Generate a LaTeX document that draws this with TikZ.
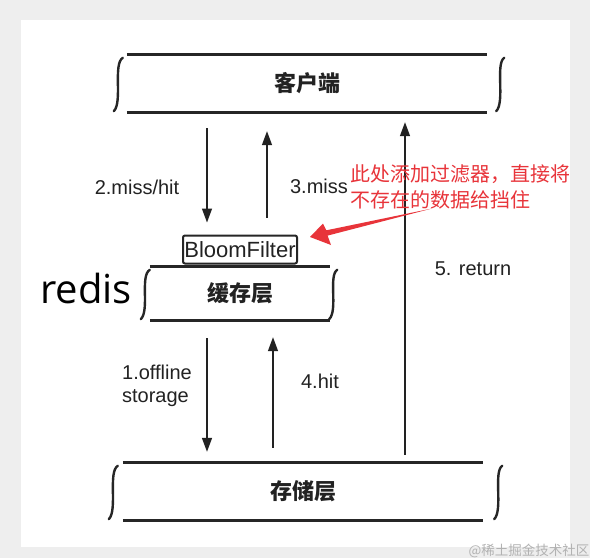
\documentclass[tikz,border=0pt]{standalone}
\usepackage{fontspec}
\setmainfont{Liberation Sans}
\newfontfamily\cjk{Noto Sans CJK SC}
\newfontfamily\redisfont{Open Sans}
\usetikzlibrary{arrows.meta,calc}
\definecolor{bgc}{RGB}{238,238,238}
\definecolor{redc}{RGB}{232,52,58}
\definecolor{ink}{RGB}{34,34,34}
\newcommand\layerdeco[3]{%
  \draw[bar] (#1.north west) -- (#1.north east);
  \draw[bar] (#1.south west) -- (#1.south east);
  \draw[brk] ([shift={(-#2+5,3)}]#1.north west) .. controls ([shift={(-#2-5,9)}]#1.north west) and ([shift={(-#2+5,-10)}]#1.south west) .. ([shift={(-#2-4,-1)}]#1.south west);
  \draw[brk] ([shift={(#3+4,3)}]#1.north east) .. controls ([shift={(#3-5,9)}]#1.north east) and ([shift={(#3+5,-10)}]#1.south east) .. ([shift={(#3-4,-1)}]#1.south east);
}
\begin{document}
\begin{tikzpicture}[x=1pt,y=-1pt,
  bar/.style={line width=3pt, draw=black!85},
  brk/.style={line width=2.4pt, draw=black!85, line cap=round},
  layer/.style={inner sep=0pt, font=\cjk\bfseries\fontsize{22}{24}\selectfont, text=ink},
  arr/.style={line width=1.4pt, draw=ink, -{Triangle[length=14pt,width=10pt]}},
  lbl/.style={inner sep=0pt, font=\fontsize{20}{24}\selectfont, text=ink},
  redtxt/.style={inner sep=0pt, font=\cjk\fontsize{20}{26}\selectfont, text=redc, anchor=base west}
]
\useasboundingbox (0,0) rectangle (590,558);
\fill[bgc] (0,0) rectangle (590,558);
\fill[white] (21,20) rectangle (570,547);

% layers
\node[layer, minimum width=360pt, minimum height=57pt] (client) at (307,83.5) {客户端};
\node[layer, minimum width=180pt, minimum height=53pt] (cache) at (240,293.5) {缓存层};
\node[layer, minimum width=360pt, minimum height=57pt] (storage) at (303,491.5) {存储层};
\layerdeco{client}{9}{13}
\layerdeco{cache}{5}{3}
\layerdeco{storage}{10}{15}

% bloom filter
\node[draw=black!85, line width=2pt, rounded corners=2pt, minimum width=114pt, minimum height=28pt,
      inner sep=0pt, font=\fontsize{22}{24}\selectfont, text=ink] (bloom) at (240,249.5) {BloomFilter};

% redis
\node[inner sep=0pt, anchor=base, font=\redisfont\fontsize{40}{44}\selectfont, text=black] (redis) at (86,303) {redis};

% arrows
\draw[arr] ([shift={(-100,16)}]client.south) -- ([shift={(-33,-12)}]bloom.north);
\draw[arr] ([shift={(27,-17)}]bloom.north) -- ([shift={(-40,19)}]client.south);
\draw[arr] ([shift={(-33,18)}]cache.south) -- ([shift={(-96,-11)}]storage.north);
\draw[arr] ([shift={(-30,-15)}]storage.north) -- ([shift={(33,17)}]cache.south);
\draw[arr] ([shift={(102,-8)}]storage.north) -- ([shift={(98,10)}]client.south);

% labels
\node[lbl] (l2) at (137,187) {2.miss/hit};
\node[lbl] (l3) at (319,186) {3.miss};
\node[lbl] (l5) at (473,269) {5. return};
\node[lbl, align=left, font=\fontsize{20}{23}\selectfont] (l1) at (157,386) {1.offline\\storage};
\node[lbl] (l4) at (320,381) {4.hit};

% red note
\node[redtxt] (r1) at (350,181.5) {此处添加过滤器，直接将};
\node[redtxt] (r2) at (350,207.5) {不存在的数据给挡住};
\coordinate (rtail) at (432,208.5);
\coordinate (rtip) at (310,237);
\fill[redc] (rtip) -- (323,223.5) -- (326.3,230.3) -- (rtail) -- (327.6,235.6) -- (331,245) -- cycle;

% watermark
\node[inner sep=0pt, font=\cjk\fontsize{13.5}{15}\selectfont, text=black!30] (wm) at (529,551) {@稀土掘金技术社区};
\end{tikzpicture}
\end{document}
